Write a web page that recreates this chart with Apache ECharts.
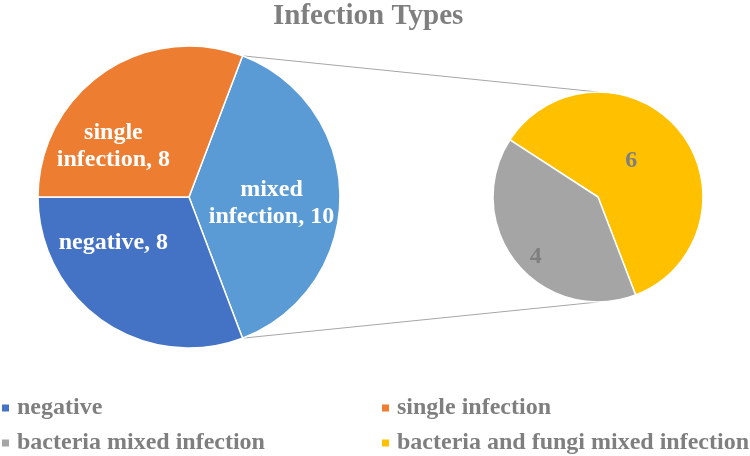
<!DOCTYPE html>
<html>
<head>
<meta charset="utf-8">
<script src="https://cdn.jsdelivr.net/npm/echarts@6/dist/echarts.min.js"></script>
<style>
  html, body { margin: 0; padding: 0; background: #fff; }
  #chart { width: 750px; height: 456px; }
</style>
</head>
<body>
<div id="chart"></div>
<script>
// main pie, in drawing order (clockwise from the upper edge of "mixed infection")
const mainNames = ['mixed infection', 'negative', 'single infection'];
const mainValues = [10, 8, 8];
// secondary pie: the split of "mixed infection"
const subNames = ['bacteria and fungi mixed infection', 'bacteria mixed infection'];
const subValues = [6, 4];
const legendLeft = ['negative', 'bacteria mixed infection'];
const legendRight = ['single infection', 'bacteria and fungi mixed infection'];

const colors = {
  'negative': '#4472C4',
  'single infection': '#ED7D31',
  'mixed infection': '#5B9BD5',
  'bacteria mixed infection': '#A5A5A5',
  'bacteria and fungi mixed infection': '#FFC000'
};

const font = '"Liberation Serif", "Times New Roman", serif';
const grey = '#7F7F7F';

// layout
const c1 = [189, 197], r1 = 151;
const c2 = [598, 197], r2 = 105;
// nudge labels to where Excel puts them
const mainShift = [[4, 6], [-31, -19], [-31, 14]];
const subShift = [[-10, -1], [-19, 25]];

const total = mainValues.reduce((a, b) => a + b, 0);
const half = 180 * mainValues[0] / total; // half-angle of the exploded slice
const rad = half * Math.PI / 180;
const subTotal = subValues.reduce((a, b) => a + b, 0);
// gray slice sits lower-left, ending at about -69 degrees
const subStart = -69 + 360 * subValues[0] / subTotal;

const chart = echarts.init(document.getElementById('chart'));

const legendBase = {
  orient: 'vertical',
  top: 396,
  padding: 0,
  icon: 'rect',
  itemWidth: 9,
  itemHeight: 9,
  itemGap: 11,
  selectedMode: false,
  textStyle: { fontFamily: font, fontSize: 24, fontWeight: 'bold', color: grey, padding: [0, 0, 0, 2] }
};

const option = {
  animation: false,
  title: {
    text: 'Infection Types',
    left: 268,
    top: -3,
    textStyle: { fontFamily: font, fontSize: 29, fontWeight: 'bold', color: grey }
  },
  legend: [
    Object.assign({}, legendBase, { left: 0, data: legendLeft }),
    Object.assign({}, legendBase, { left: 380, data: legendRight })
  ],
  graphic: [
    {
      type: 'line', z: 0,
      shape: { x1: c1[0] + r1 * Math.cos(rad), y1: c1[1] - r1 * Math.sin(rad), x2: c2[0], y2: c2[1] - r2 },
      style: { stroke: '#A6A6A6', lineWidth: 1 }
    },
    {
      type: 'line', z: 0,
      shape: { x1: c1[0] + r1 * Math.cos(rad), y1: c1[1] + r1 * Math.sin(rad), x2: c2[0], y2: c2[1] + r2 },
      style: { stroke: '#A6A6A6', lineWidth: 1 }
    }
  ],
  series: [
    {
      type: 'pie',
      center: c1,
      radius: [0, r1],
      startAngle: half,
      clockwise: true,
      silent: true,
      itemStyle: { borderColor: '#fff', borderWidth: 1.5 },
      label: {
        show: true,
        position: 'inside',
        fontFamily: font,
        fontSize: 24,
        fontWeight: 'bold',
        color: '#fff',
        lineHeight: 27,
        formatter: p => p.name === 'negative'
          ? p.name + ', ' + p.value
          : p.name.replace(' ', '\n') + ', ' + p.value
      },
      labelLayout: p => ({ dx: mainShift[p.dataIndex][0], dy: mainShift[p.dataIndex][1] }),
      data: mainNames.map((n, i) => ({ name: n, value: mainValues[i], itemStyle: { color: colors[n] } }))
    },
    {
      type: 'pie',
      center: c2,
      radius: [0, r2],
      startAngle: subStart,
      clockwise: true,
      silent: true,
      itemStyle: { borderColor: '#fff', borderWidth: 1.5 },
      label: {
        show: true,
        position: 'inside',
        fontFamily: font,
        fontSize: 24,
        fontWeight: 'bold',
        color: grey,
        formatter: p => String(p.value)
      },
      labelLayout: p => ({ dx: subShift[p.dataIndex][0], dy: subShift[p.dataIndex][1] }),
      data: subNames.map((n, i) => ({ name: n, value: subValues[i], itemStyle: { color: colors[n] } }))
    }
  ]
};

chart.setOption(option);
</script>
</body>
</html>
